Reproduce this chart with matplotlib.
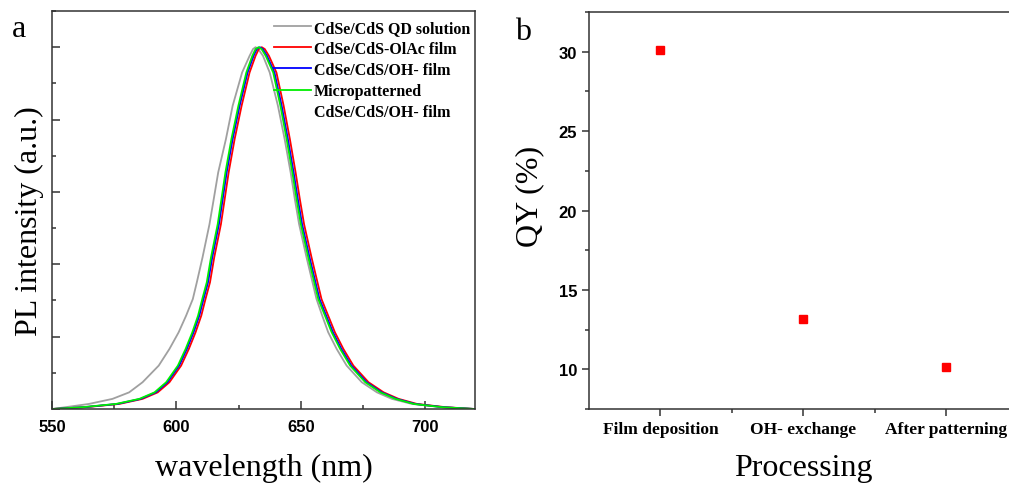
import matplotlib
matplotlib.use("Agg")
import matplotlib.pyplot as plt
from matplotlib.lines import Line2D
from matplotlib.ticker import MultipleLocator

# PL spectra (wavelength in nm, normalised intensity)
wl_solution = [550, 555.4, 564.8, 574.3, 581.0, 586.4, 592.9, 597.2, 600.9, 603.9,
               606.6, 608.2, 610.5, 613.3, 615.0, 616.8, 619.9, 622.6, 626.4, 629.4,
               630.8, 631.8, 632.9, 634.8, 637.5, 640.8, 643.5, 645.9, 647.6, 649.3,
               652.3, 654.7, 656.3, 658.6, 661.0, 664.4, 668.4, 674.5, 680.6, 686.6,
               694.7, 706.8, 720]
pl_solution = [0.0, 0.005, 0.014, 0.028, 0.046, 0.074, 0.120, 0.166, 0.212, 0.258,
               0.304, 0.35, 0.419, 0.511, 0.58, 0.654, 0.746, 0.838, 0.93, 0.976,
               0.995, 1.0, 0.995, 0.976, 0.93, 0.838, 0.746, 0.654, 0.58, 0.511,
               0.419, 0.35, 0.304, 0.258, 0.212, 0.166, 0.120, 0.074, 0.046, 0.028,
               0.014, 0.005, 0.0]

wl_olac = [550, 563.5, 577.0, 586.4, 592.5, 597.2, 601.9, 605.0, 607.7, 610.0,
           611.7, 613.5, 615.2, 617.9, 619.4, 621.0, 623.4, 626.2, 629.4, 631.8,
           633.1, 634.3, 635.5, 637.2, 640.2, 643.1, 645.6, 647.9, 649.6, 651.3,
           654.3, 656.7, 658.3, 661.0, 663.7, 667.1, 671.1, 677.2, 683.3, 689.3,
           696.7, 708.2, 720]
pl_olac = [0.0, 0.005, 0.014, 0.028, 0.046, 0.074, 0.120, 0.166, 0.212, 0.258,
           0.304, 0.35, 0.419, 0.511, 0.58, 0.654, 0.746, 0.838, 0.93, 0.976,
           0.995, 1.0, 0.995, 0.976, 0.93, 0.838, 0.746, 0.654, 0.58, 0.511,
           0.419, 0.35, 0.304, 0.258, 0.212, 0.166, 0.120, 0.074, 0.046, 0.028,
           0.014, 0.005, 0.0]

wl_oh = [550, 562.7, 576.2, 585.6, 591.7, 596.4, 601.1, 604.2, 606.9, 609.2,
         610.9, 612.7, 614.4, 617.1, 618.6, 620.2, 622.6, 625.4, 628.6, 631.0,
         632.3, 633.5, 634.7, 636.4, 639.4, 642.3, 644.8, 647.1, 648.8, 650.5,
         653.5, 655.9, 657.5, 660.2, 662.9, 666.3, 670.3, 676.4, 682.5, 688.5,
         695.9, 707.4, 720]
pl_oh = [0.0, 0.005, 0.014, 0.028, 0.046, 0.074, 0.120, 0.166, 0.212, 0.258,
         0.304, 0.35, 0.419, 0.511, 0.58, 0.654, 0.746, 0.838, 0.93, 0.976,
         0.995, 1.0, 0.995, 0.976, 0.93, 0.838, 0.746, 0.654, 0.58, 0.511,
         0.419, 0.35, 0.304, 0.258, 0.212, 0.166, 0.120, 0.074, 0.046, 0.028,
         0.014, 0.005, 0.0]

wl_pattern = [550, 562.2, 575.7, 585.1, 591.2, 595.9, 600.6, 603.7, 606.4, 608.7,
              610.4, 612.2, 613.9, 616.6, 618.1, 619.7, 622.1, 624.9, 628.1, 630.5,
              631.8, 633.0, 634.2, 635.9, 638.9, 641.8, 644.3, 646.6, 648.3, 650.0,
              653.0, 655.4, 657.0, 659.7, 662.4, 665.8, 669.8, 675.9, 682.0, 688.0,
              695.4, 706.9, 720]
pl_pattern = [0.0, 0.005, 0.014, 0.028, 0.046, 0.074, 0.120, 0.166, 0.212, 0.258,
              0.304, 0.35, 0.419, 0.511, 0.58, 0.654, 0.746, 0.838, 0.93, 0.976,
              0.995, 1.0, 0.995, 0.976, 0.93, 0.838, 0.746, 0.654, 0.58, 0.511,
              0.419, 0.35, 0.304, 0.258, 0.212, 0.166, 0.120, 0.074, 0.046, 0.028,
              0.014, 0.005, 0.0]

# QY values
steps = ["Film deposition", "OH- exchange", "After patterning"]
qy = [30.1, 13.15, 10.17]

serif = "Liberation Serif"
sans = "Liberation Sans"
spine_col = "#333333"

fig = plt.figure(figsize=(10.09, 4.85), dpi=100)

# ---------- panel a ----------
ax1 = fig.add_axes([0.0515, 0.1546, 0.4193, 0.8206])
ax1.plot(wl_solution, pl_solution, color="#a0a0a0", lw=1.3, label="CdSe/CdS QD solution")
ax1.plot(wl_olac, pl_olac, color="#ff0000", lw=1.3, label="CdSe/CdS-OlAc film")
ax1.plot(wl_oh, pl_oh, color="#0000ff", lw=1.3, label="CdSe/CdS/OH- film")
ax1.plot(wl_pattern, pl_pattern, color="#00ee00", lw=1.3, label="Micropatterned")
ax1.set_xlim(550, 720)
ax1.set_ylim(0, 1.1)
ax1.xaxis.set_major_locator(MultipleLocator(50))
ax1.xaxis.set_minor_locator(MultipleLocator(25))
ax1.yaxis.set_major_locator(MultipleLocator(0.2))
ax1.yaxis.set_minor_locator(MultipleLocator(0.1))
ax1.set_yticklabels([])
ax1.tick_params(which="both", direction="in", top=False, right=False, color=spine_col, width=1.1)
ax1.tick_params(which="major", length=6)
ax1.tick_params(which="minor", length=3)
ax1.tick_params(axis="x", pad=7)
for lab in ax1.get_xticklabels():
    lab.set_fontfamily(sans)
    lab.set_fontweight("bold")
    lab.set_fontsize(12)
for s in ax1.spines.values():
    s.set_color(spine_col)
    s.set_linewidth(1.1)
ax1.set_xlabel("wavelength (nm)", fontfamily=serif, fontsize=23, labelpad=14)
ax1.set_ylabel("PL intensity (a.u.)", fontfamily=serif, fontsize=23)
ax1.yaxis.set_label_coords(-0.019, 0.475)

handles, labels = ax1.get_legend_handles_labels()
handles.append(Line2D([], [], color="none"))
labels.append("CdSe/CdS/OH- film")
ax1.legend(handles, labels, loc="upper right", bbox_to_anchor=(1.009, 1.0), frameon=False,
           prop={"family": serif, "weight": "bold", "size": 11.5},
           handlelength=2.35, handletextpad=0.15, labelspacing=0.32,
           borderaxespad=0.3, borderpad=0.25)
fig.text(0.012, 0.94, "a", fontfamily=serif, fontsize=23, va="center")

# ---------- panel b ----------
ax2 = fig.add_axes([0.5837, 0.1546, 0.4252, 0.8186])
xpos = [1, 2, 3]
ax2.plot(xpos, qy, linestyle="none", marker="s", markersize=6, color="#ff0000")
ax2.set_xlim(0.5, 3.5)
ax2.set_ylim(7.5, 32.5)
ax2.set_xticks(xpos)
ax2.set_xticklabels(steps, fontfamily=serif, fontweight="bold", fontsize=12.5)
ax2.set_xticks([1.5, 2.5], minor=True)
ax2.yaxis.set_major_locator(MultipleLocator(5))
ax2.yaxis.set_minor_locator(MultipleLocator(2.5))
ax2.tick_params(which="both", direction="out", top=False, right=False, color=spine_col, width=1.1)
ax2.tick_params(which="major", length=5)
ax2.tick_params(which="minor", length=3)
for lab in ax2.get_yticklabels():
    lab.set_fontfamily(sans)
    lab.set_fontweight("bold")
    lab.set_fontsize(12)
for s in ax2.spines.values():
    s.set_color(spine_col)
    s.set_linewidth(1.1)
ax2.set_xlabel("Processing", fontfamily=serif, fontsize=23, labelpad=12)
ax2.set_ylabel("QY (%)", fontfamily=serif, fontsize=23)
ax2.yaxis.set_label_coords(-0.105, 0.537)
fig.text(0.51, 0.933, "b", fontfamily=serif, fontsize=23, va="center")

fig.savefig("out.png", dpi=100)
